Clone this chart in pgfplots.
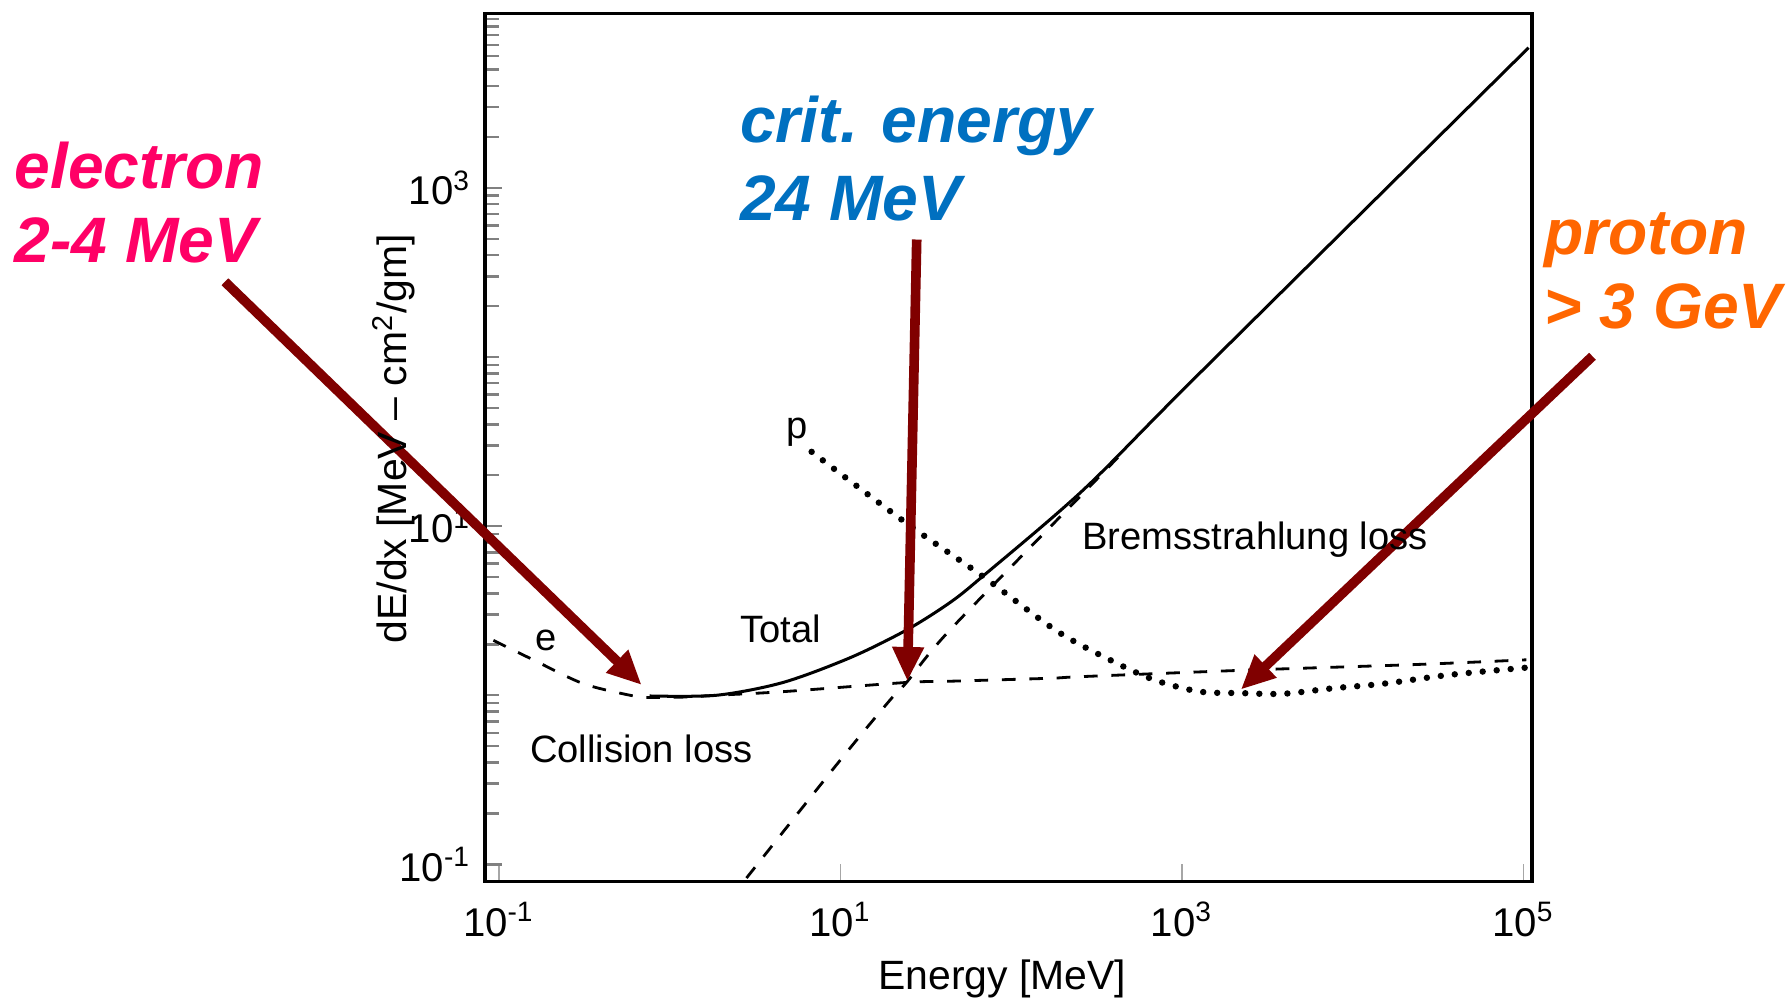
\documentclass[border=0pt]{standalone}
\usepackage{fontspec}
\setmainfont{Liberation Sans}
\usepackage{pgfplots}
\pgfplotsset{compat=1.18}
\usetikzlibrary{arrows.meta,calc}

\definecolor{arrowred}{RGB}{128,0,0}
\definecolor{elecpink}{RGB}{255,0,102}
\definecolor{critblue}{RGB}{0,112,192}
\definecolor{protorange}{RGB}{255,102,0}

\begin{document}
\begin{tikzpicture}
\begin{axis}[
  xmode=log, ymode=log,
  scale only axis, width=9.17cm, height=7.60cm,
  xmin=0.0832, xmax=112200,
  ymin=0.0794, ymax=10715,
  xtick={0.1,10,1000,100000},
  xticklabels={10\textsuperscript{-1},10\textsuperscript{1},10\textsuperscript{3},10\textsuperscript{5}},
  ytick={0.1,10,1000},
  yticklabels={10\textsuperscript{-1},10\textsuperscript{1},10\textsuperscript{3}},
  minor xtick={},
  minor ytick={0.2,0.3,0.4,0.5,0.6,0.7,0.8,0.9,1,2,3,4,5,6,7,8,9,
               20,30,40,50,60,70,80,90,100,200,300,400,500,600,700,800,900,
               2000,3000,4000,5000,6000,7000,8000,9000,10000},
  xtick pos=bottom, ytick pos=left,
  tick align=inside,
  major tick length=0.15cm, minor tick length=0.12cm,
  xtick style={gray!70, line width=0.35pt},
  ytick style={line width=0.6pt},
  axis line style={line width=0.9pt},
  tick label style={font=\fontsize{10}{12}\selectfont},
  xticklabel style={yshift=-0.06cm},
  label style={font=\fontsize{10.2}{12}\selectfont},
  xlabel={Energy [MeV]},
  ylabel={dE/dx [MeV – cm\textsuperscript{2}/gm]},
  xlabel style={at={(axis description cs:0.494,-0.113)}, anchor=center},
  ylabel style={at={(axis description cs:-0.0872,0.51)}, anchor=center},
  clip=false,
]
\coordinate (sw) at (rel axis cs:0,0);

% electron collision loss
\addplot[black, line width=0.7pt, dash pattern=on 0.12cm off 0.12cm, smooth, tension=0.5]
  coordinates {(0.093,2.11) (0.159,1.62) (0.313,1.17) (0.615,0.99) (0.774,0.97)
               (1.2,0.975) (1.89,1.0) (4.62,1.05) (24.4,1.19) (43.8,1.21)
               (169,1.26) (265,1.29) (2506,1.41) (23700,1.52) (104000,1.62)};

% bremsstrahlung loss
\addplot[black, line width=0.7pt, dash pattern=on 0.12cm off 0.12cm, smooth, tension=0.5]
  coordinates {(2.82,0.083) (9.98,0.413) (19.6,0.94) (24.4,1.19) (43.8,2.43)
               (265,15.7) (460,27.9)};

% total electron loss
\addplot[black, line width=0.75pt, smooth, tension=0.5]
  coordinates {(0.764,0.99) (1.89,1.0) (4.62,1.19) (11.46,1.67) (24.4,2.43)
               (43.8,3.53) (68.2,5.05) (265,16.4) (1213,76.6) (107150,6745)};

% proton
\addplot[black, line width=1.6pt, line cap=round, dash pattern=on 0pt off 0.123cm, smooth, tension=0.5]
  coordinates {(6.79,27.5) (24.4,10.4) (68.2,5.05) (186,2.39) (413,1.55) (708,1.22)
               (1273,1.05) (2178,1.03) (3908,1.02) (7709,1.10) (15170,1.17)
               (36980,1.32) (107150,1.46)};

% pointers to the features
\draw[arrowred, line width=2.4pt, -{Triangle[length=0.3cm,width=0.26cm]}]
  (axis cs:0.00249,278.6) -- (axis cs:0.686,1.15);
\draw[arrowred, line width=2.4pt, -{Triangle[length=0.3cm,width=0.26cm]}]
  (axis cs:28.0,495) -- (axis cs:24.7,1.21);
\draw[arrowred, line width=2.4pt, -{Triangle[length=0.3cm,width=0.26cm]}]
  (axis cs:253500,101) -- (axis cs:2213,1.08);
\end{axis}

\coordinate (tl) at ($(sw)+(-4.25cm,7.72cm)$);
\begin{scope}[shift={(tl)}, x=0.01cm, y=-0.01cm]
  % curve labels
  \begin{scope}[every node/.style={inner sep=0pt, font=\fontsize{9.5}{11}\selectfont}]
    \node[anchor=base] at (479,570) {e};
    \node[anchor=base west] at (648,563) {Total};
    \node[anchor=base west] at (464,668) {Collision loss};
    \node[anchor=base west] at (948,482) {Bremsstrahlung loss};
    \node[anchor=base west] at (689,384) {p};
  \end{scope}
  % annotations
  \begin{scope}[every node/.style={inner sep=0pt, anchor=base west,
      font=\bfseries\itshape\fontsize{16}{19}\selectfont}]
    \node[text=elecpink] at (12,165) {electron};
    \node[text=elecpink] at (12,230) {2-4 MeV};
    \node[text=critblue] at (648,125) {crit. energy};
    \node[text=critblue] at (648,193) {24 MeV};
    \node[text=protorange] at (1353,223) {proton};
    \node[text=protorange] at (1353,288) {> 3 GeV};
  \end{scope}
\end{scope}

\pgfresetboundingbox
\path ($(sw)+(-4.25cm,-1.08cm)$) rectangle ++(15.68cm,8.80cm);
\end{tikzpicture}
\end{document}
